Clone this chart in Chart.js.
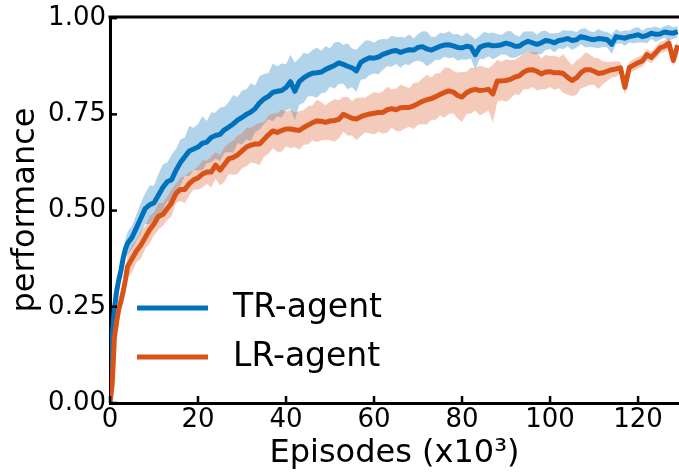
<!DOCTYPE html>
<html>
<head>
<meta charset="utf-8">
<script src="https://cdn.jsdelivr.net/npm/chart.js@4.4.1/dist/chart.umd.min.js"></script>
<style>
  html, body { margin: 0; padding: 0; background: #fff; overflow: hidden; }
  #wrap { width: 679px; height: 473px; position: relative; }
</style>
</head>
<body>
<div id="wrap"><canvas id="myChart"></canvas></div>
<script>
// episodes (x10^3)
const episodes = [0, 0.5, 1, 1.5, 2, 2.5, 3, 3.5, 4,
  5, 6, 7, 8, 9, 10, 11, 12, 13, 14, 15, 16, 17, 18, 19, 20,
  21, 22, 23, 24, 25, 26, 27, 28, 29, 30, 31, 32, 33, 34, 35, 36, 37, 38, 39, 40,
  41, 42, 43, 44, 45, 46, 47, 48, 49, 50, 51, 52, 53, 54, 55, 56, 57, 58, 59, 60,
  61, 62, 63, 64, 65, 66, 67, 68, 69, 70, 71, 72, 73, 74, 75, 76, 77, 78, 79, 80,
  81, 82, 83, 84, 85, 86, 87, 88, 89, 90, 91, 92, 93, 94, 95, 96, 97, 98, 99, 100,
  101, 102, 103, 104, 105, 106, 107, 108, 109, 110, 111, 112, 113, 114, 115, 116, 117, 118, 119, 120,
  121, 122, 123, 124, 125, 126, 127, 128, 129];

const trMean = [0.03, 0.17, 0.245, 0.29, 0.32, 0.345, 0.377, 0.40, 0.415,
  0.43, 0.455, 0.48, 0.505, 0.515, 0.52, 0.54, 0.56, 0.575, 0.58, 0.605, 0.625, 0.64, 0.655, 0.66, 0.665,
  0.675, 0.678, 0.69, 0.695, 0.698, 0.71, 0.717, 0.725, 0.735, 0.742, 0.75, 0.756, 0.765, 0.78, 0.79, 0.797, 0.807, 0.81, 0.812, 0.82,
  0.835, 0.81, 0.835, 0.845, 0.852, 0.857, 0.858, 0.86, 0.867, 0.872, 0.877, 0.884, 0.88, 0.875, 0.871, 0.863, 0.885, 0.892, 0.897, 0.896,
  0.899, 0.906, 0.91, 0.914, 0.916, 0.911, 0.915, 0.918, 0.917, 0.924, 0.926, 0.92, 0.917, 0.922, 0.927, 0.93, 0.931, 0.928, 0.924, 0.923,
  0.927, 0.925, 0.905, 0.924, 0.929, 0.931, 0.928, 0.929, 0.931, 0.935, 0.932, 0.927, 0.927, 0.935, 0.94, 0.936, 0.932, 0.936, 0.942, 0.94,
  0.936, 0.942, 0.944, 0.947, 0.942, 0.944, 0.952, 0.949, 0.946, 0.944, 0.947, 0.946, 0.944, 0.932, 0.952, 0.95, 0.948, 0.952, 0.954, 0.957,
  0.952, 0.955, 0.961, 0.958, 0.959, 0.964, 0.962, 0.961, 0.965];

const trSpread = [0.01, 0.02, 0.02, 0.02, 0.02, 0.02, 0.025, 0.025, 0.03,
  0.03, 0.035, 0.04, 0.04, 0.05, 0.045, 0.055, 0.06, 0.05, 0.065, 0.055, 0.06, 0.05, 0.065, 0.055, 0.06,
  0.07, 0.055, 0.065, 0.06, 0.07, 0.06, 0.065, 0.075, 0.06, 0.07, 0.065, 0.075, 0.06, 0.07, 0.065, 0.06, 0.075, 0.065, 0.07, 0.06,
  0.07, 0.075, 0.06, 0.065, 0.055, 0.06, 0.065, 0.055, 0.06, 0.05, 0.06, 0.055, 0.05, 0.06, 0.05, 0.055, 0.045, 0.05, 0.045, 0.04,
  0.045, 0.04, 0.035, 0.04, 0.035, 0.04, 0.035, 0.04, 0.03, 0.035, 0.04, 0.045, 0.035, 0.03, 0.035, 0.03, 0.035, 0.03, 0.035, 0.03,
  0.035, 0.03, 0.04, 0.03, 0.035, 0.03, 0.035, 0.03, 0.025, 0.03, 0.035, 0.03, 0.025, 0.03, 0.025, 0.03, 0.025, 0.03, 0.025, 0.02,
  0.025, 0.02, 0.025, 0.02, 0.025, 0.02, 0.02, 0.025, 0.02, 0.02, 0.025, 0.02, 0.02, 0.025, 0.02, 0.015, 0.02, 0.015, 0.02, 0.02,
  0.015, 0.02, 0.015, 0.02, 0.015, 0.015, 0.02, 0.015, 0.015];

const lrMean = [0, 0.05, 0.17, 0.21, 0.245, 0.265, 0.29, 0.32, 0.355,
  0.375, 0.395, 0.41, 0.43, 0.45, 0.465, 0.485, 0.49, 0.505, 0.52, 0.545, 0.555, 0.555, 0.57, 0.58, 0.585,
  0.595, 0.6, 0.6, 0.618, 0.605, 0.62, 0.635, 0.638, 0.645, 0.655, 0.665, 0.67, 0.673, 0.673, 0.685, 0.697, 0.707, 0.703, 0.708, 0.712,
  0.712, 0.71, 0.708, 0.716, 0.722, 0.728, 0.733, 0.732, 0.729, 0.733, 0.734, 0.737, 0.75, 0.745, 0.74, 0.738, 0.744, 0.748, 0.751, 0.753,
  0.755, 0.755, 0.762, 0.765, 0.762, 0.767, 0.768, 0.768, 0.772, 0.778, 0.784, 0.788, 0.791, 0.796, 0.802, 0.807, 0.811, 0.808, 0.799, 0.795,
  0.806, 0.812, 0.815, 0.812, 0.813, 0.815, 0.803, 0.837, 0.837, 0.838, 0.841, 0.847, 0.85, 0.86, 0.865, 0.866, 0.862, 0.855, 0.86, 0.861,
  0.858, 0.858, 0.856, 0.846, 0.838, 0.845, 0.858, 0.866, 0.866, 0.862, 0.856, 0.858, 0.862, 0.866, 0.868, 0.871, 0.82, 0.872, 0.878, 0.884,
  0.889, 0.905, 0.898, 0.91, 0.923, 0.927, 0.935, 0.89, 0.93];

const lrSpread = [0, 0.02, 0.02, 0.02, 0.02, 0.025, 0.025, 0.03, 0.03,
  0.035, 0.03, 0.035, 0.03, 0.035, 0.03, 0.035, 0.03, 0.03, 0.035, 0.025, 0.03, 0.035, 0.03, 0.025, 0.03,
  0.035, 0.03, 0.04, 0.035, 0.04, 0.045, 0.04, 0.045, 0.05, 0.045, 0.05, 0.045, 0.05, 0.055, 0.045, 0.05, 0.045, 0.05, 0.055, 0.045,
  0.05, 0.045, 0.05, 0.045, 0.05, 0.045, 0.055, 0.05, 0.045, 0.05, 0.055, 0.05, 0.045, 0.05, 0.045, 0.055, 0.05, 0.045, 0.05, 0.055,
  0.05, 0.055, 0.06, 0.05, 0.055, 0.06, 0.055, 0.05, 0.06, 0.055, 0.06, 0.065, 0.055, 0.06, 0.055, 0.065, 0.06, 0.055, 0.06, 0.065,
  0.055, 0.06, 0.055, 0.065, 0.06, 0.055, 0.075, 0.055, 0.05, 0.055, 0.05, 0.045, 0.05, 0.045, 0.05, 0.045, 0.05, 0.04, 0.045, 0.04,
  0.045, 0.04, 0.05, 0.045, 0.04, 0.045, 0.04, 0.045, 0.04, 0.035, 0.04, 0.03, 0.025, 0.02, 0.02, 0.015, 0.02, 0.015, 0.015, 0.015,
  0.015, 0.015, 0.015, 0.015, 0.015, 0.015, 0.015, 0.015, 0.015];

const xTicks = [0, 20, 40, 60, 80, 100, 120];
const yTicks = [0, 0.25, 0.5, 0.75, 1.0];
const seriesNames = ['TR-agent', 'LR-agent'];

const blue = '#0072bd';
const orange = '#d95319';
const FONT = 'DejaVu Sans';

function pts(vals) {
  return episodes.map((e, i) => ({ x: e, y: vals[i] }));
}
function band(vals, spread, sign) {
  return episodes.map((e, i) => ({ x: e, y: vals[i] + sign * spread[i] }));
}

const axisDecor = {
  id: 'axisDecor',
  afterDraw(chart) {
    const { ctx, chartArea: a, scales: { x, y } } = chart;
    ctx.save();
    ctx.strokeStyle = '#000';
    ctx.lineWidth = 3;
    ctx.beginPath();
    ctx.moveTo(a.left - 1.5, a.top);
    ctx.lineTo(a.right + 2, a.top);
    ctx.stroke();

    // ticks point inward
    ctx.lineWidth = 2.5;
    xTicks.forEach(v => {
      const px = x.getPixelForValue(v);
      ctx.beginPath();
      ctx.moveTo(px, a.bottom);
      ctx.lineTo(px, a.bottom - 7);
      ctx.stroke();
    });
    yTicks.forEach(v => {
      const py = y.getPixelForValue(v);
      ctx.beginPath();
      ctx.moveTo(a.left, py);
      ctx.lineTo(a.left + 7, py);
      ctx.stroke();
    });

    // legend, no frame
    const colors = [blue, orange];
    const rows = [308, 357];
    ctx.font = '33px "' + FONT + '"';
    ctx.textBaseline = 'middle';
    ctx.textAlign = 'left';
    seriesNames.forEach((name, i) => {
      ctx.strokeStyle = colors[i];
      ctx.lineWidth = 5;
      ctx.beginPath();
      ctx.moveTo(a.left + 27, rows[i]);
      ctx.lineTo(a.left + 98, rows[i]);
      ctx.stroke();
      ctx.fillStyle = '#000';
      ctx.fillText(name, a.left + 123, rows[i]);
    });
    ctx.restore();
  }
};

const ctx = document.getElementById('myChart').getContext('2d');
new Chart(ctx, {
  type: 'line',
  data: {
    datasets: [
      { data: band(trMean, trSpread, 1), borderWidth: 0, pointRadius: 0, fill: false, order: 6 },
      { data: band(trMean, trSpread, -1), borderWidth: 0, pointRadius: 0, fill: '-1', backgroundColor: 'rgba(0,114,189,0.3)', order: 5 },
      { data: band(lrMean, lrSpread, 1), borderWidth: 0, pointRadius: 0, fill: false, order: 4 },
      { data: band(lrMean, lrSpread, -1), borderWidth: 0, pointRadius: 0, fill: '-1', backgroundColor: 'rgba(217,83,25,0.3)', order: 3 },
      { label: seriesNames[0], data: pts(trMean), borderColor: blue, borderWidth: 5, pointRadius: 0, fill: false, order: 2 },
      { label: seriesNames[1], data: pts(lrMean), borderColor: orange, borderWidth: 5, pointRadius: 0, fill: false, order: 1 }
    ]
  },
  options: {
    responsive: true,
    maintainAspectRatio: false,
    animation: false,
    layout: { padding: { top: 14, right: 0, left: 0, bottom: 0 } },
    elements: { line: { tension: 0, borderJoinStyle: 'round' } },
    plugins: { legend: { display: false }, tooltip: { enabled: false } },
    scales: {
      x: {
        type: 'linear',
        min: 0,
        max: 129.3,
        afterFit: s => { s.height = 70; },
        afterBuildTicks: s => { s.ticks = xTicks.map(v => ({ value: v })); },
        grid: { display: true, drawOnChartArea: false, drawTicks: false },
        border: { display: true, color: '#000', width: 3 },
        ticks: { color: '#000', padding: 4, font: { family: FONT, size: 26, lineHeight: 1 } },
        title: { display: true, text: 'Episodes (x10³)', color: '#000', padding: { top: 0, bottom: 0 }, font: { family: FONT, size: 32, lineHeight: 1.2 } }
      },
      y: {
        min: 0,
        max: 1.003,
        afterFit: s => { s.width = 110; },
        afterBuildTicks: s => { s.ticks = yTicks.map(v => ({ value: v })); },
        grid: { display: true, drawOnChartArea: false, drawTicks: false },
        border: { display: true, color: '#000', width: 3 },
        ticks: { color: '#000', padding: 4, callback: v => v.toFixed(2), font: { family: FONT, size: 26, lineHeight: 1 } },
        title: { display: true, text: 'performance', color: '#000', padding: { top: 6, bottom: 0 }, font: { family: FONT, size: 32, lineHeight: 1.2 } }
      }
    }
  },
  plugins: [axisDecor]
});
</script>
</body>
</html>
